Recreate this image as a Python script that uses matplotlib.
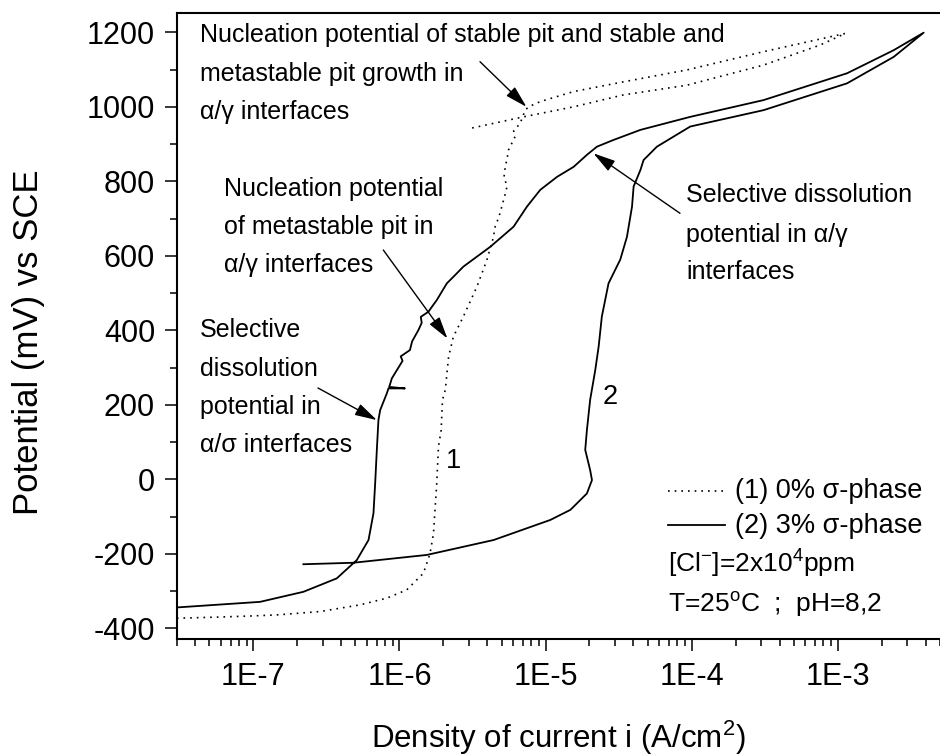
import numpy as np
import matplotlib
matplotlib.use("Agg")
import matplotlib.pyplot as plt
from matplotlib.lines import Line2D
from matplotlib.ticker import FixedLocator, LogLocator, NullFormatter, FuncFormatter, MultipleLocator

plt.rcParams['font.family'] = ['Liberation Sans', 'DejaVu Sans']
plt.rcParams['mathtext.fontset'] = 'custom'
plt.rcParams['mathtext.rm'] = 'Liberation Sans'
plt.rcParams['mathtext.it'] = 'Liberation Sans:italic'
plt.rcParams['mathtext.bf'] = 'Liberation Sans:bold'
plt.rcParams['axes.unicode_minus'] = False

# curve 1 : 0% sigma-phase (forward scan then reverse)
i_0 = [2.99e-8, 5.61e-8, 9.48e-8, 1.45e-7, 2.86e-7, 5.38e-7, 8.20e-7, 1.12e-6,
       1.46e-6, 1.62e-6, 1.71e-6, 1.80e-6, 1.85e-6, 1.93e-6, 1.97e-6, 2.06e-6,
       2.17e-6, 2.34e-6, 2.74e-6, 3.39e-6, 3.97e-6, 4.18e-6, 4.40e-6, 4.52e-6,
       4.80e-6, 5.02e-6, 5.25e-6, 5.45e-6, 5.20e-6, 5.30e-6, 5.45e-6, 5.58e-6,
       6.19e-6, 6.05e-6, 6.71e-6, 7.26e-6, 7.66e-6, 9.20e-6, 1.56e-5, 3.42e-5,
       9.29e-5, 3.11e-4, 1.13e-3,
       7.60e-4, 3.11e-4, 9.29e-5, 3.42e-5, 1.56e-5, 7.06e-6, 3.05e-6]
E_0 = [-373, -370, -367, -364, -355, -337, -319, -297,
       -252, -199, -145, -11, 88, 132, 213, 240,
       329, 383, 437, 517, 589, 620, 650, 678,
       705, 732, 760, 786, 812, 839, 860, 884,
       920, 935, 956, 991, 1000, 1014, 1041, 1067,
       1099, 1148, 1197,
       1166, 1112, 1058, 1032, 1000, 973, 942]

# curve 2 : 3% sigma-phase (forward scan then reverse)
i_3 = [2.99e-8, 1.11e-7, 2.20e-7, 3.72e-7, 5.10e-7, 6.14e-7, 6.64e-7, 6.82e-7,
       7.00e-7, 7.18e-7, 7.38e-7, 8.20e-7, 8.41e-7, 1.09e-6, 8.51e-7, 8.87e-7,
       1.05e-6, 1.02e-6, 1.18e-6, 1.22e-6, 1.35e-6, 1.42e-6, 1.40e-6, 1.58e-6,
       1.66e-6, 1.80e-6, 2.11e-6, 2.40e-6, 2.74e-6, 4.18e-6, 6.04e-6,
       7.46e-6, 9.20e-6, 1.20e-5, 1.56e-5, 1.92e-5, 2.25e-5, 2.92e-5, 4.46e-5,
       9.79e-5, 3.11e-4, 1.16e-3, 2.42e-3, 3.88e-3,
       2.42e-3, 1.16e-3, 3.11e-4, 9.79e-5, 5.79e-5, 4.69e-5, 4.46e-5,
       4.01e-5, 3.91e-5, 3.61e-5, 3.25e-5, 2.70e-5, 2.43e-5, 2.31e-5, 2.19e-5,
       2.02e-5, 1.92e-5, 1.87e-5, 2.02e-5, 2.08e-5, 1.92e-5, 1.48e-5, 1.08e-5,
       4.41e-6, 1.54e-6, 4.84e-7, 2.20e-7]
E_3 = [-344, -329, -302, -266, -217, -163, -91, -10,
       79, 159, 186, 231, 244, 244, 248, 271,
       318, 330, 347, 370, 401, 420, 436, 450,
       462, 481, 526, 548, 571, 624, 678,
       732, 777, 812, 839, 871, 893, 911, 938,
       973, 1018, 1090, 1152, 1199,
       1134, 1063, 991, 947, 893, 857, 830,
       786, 732, 651, 590, 526, 437, 356, 293,
       213, 132, 79, 25, -2, -38, -82, -109,
       -163, -203, -224, -228]

x_major = [1e-7, 1e-6, 1e-5, 1e-4, 1e-3]
legend_labels = ["(1) 0% σ-phase", "(2) 3% σ-phase"]

W, H = 940, 756
fig = plt.figure(figsize=(W / 100, H / 100), dpi=100)
ax = fig.add_axes([176.7 / W, 1 - 639 / H, (W - 176.7) / W, (639 - 13.3) / H])

ax.plot(i_0, E_0, color='k', lw=1.2, ls=(0, (1, 3)))
ax.plot(i_3, E_3, color='k', lw=1.3)

ax.set_xscale('log')
ax.set_xlim(2.985e-8, 5.02e-3)
ax.set_ylim(-428.7, 1251)

ax.xaxis.set_major_locator(FixedLocator(x_major))
ax.xaxis.set_major_formatter(FuncFormatter(lambda v, p: "1E%d" % round(np.log10(v))))
ax.xaxis.set_minor_locator(LogLocator(base=10, subs=np.arange(2, 10)))
ax.xaxis.set_minor_formatter(NullFormatter())
ax.yaxis.set_major_locator(MultipleLocator(200))
ax.yaxis.set_minor_locator(MultipleLocator(100))

ax.tick_params(which='both', direction='out', width=1.1, labelsize=22, top=False, right=False)
ax.tick_params(which='major', length=8.6, pad=7)
ax.tick_params(axis='x', which='major', pad=8)
ax.tick_params(which='minor', length=5)
for s in ['left', 'bottom', 'top']:
    ax.spines[s].set_linewidth(1.5)
ax.spines['right'].set_visible(False)

ax.set_xlabel("Density of current i (A/cm$^{2}$)", fontsize=22.5)
ax.set_ylabel("Potential (mV) vs SCE", fontsize=25)
ax.xaxis.set_label_coords(0.5, -0.127)
ax.yaxis.set_label_coords(-0.172, 0.475)


def ftext(x, y, s, size=18):
    fig.text(x / W, 1 - y / H, s, fontsize=size, va='baseline', ha='left')


for y, s in zip([42, 81, 119], ["Nucleation potential of stable pit and stable and",
                                "metastable pit growth in", "α/γ interfaces"]):
    ftext(200, y, s)
for y, s in zip([196, 234, 272], ["Nucleation potential", "of metastable pit in",
                                  "α/γ interfaces"]):
    ftext(224, y, s)
for y, s in zip([202, 242, 279], ["Selective dissolution", "potential in α/γ",
                                  "interfaces"]):
    ftext(686, y, s)
for y, s in zip([337, 376, 414, 452], ["Selective", "dissolution", "potential in",
                                       "α/σ interfaces"]):
    ftext(200, y, s)
ftext(446, 468, "1", 19.5)
ftext(603, 404, "2", 19.5)

arrow = dict(arrowstyle='-|>,head_length=0.9,head_width=0.25', color='k', lw=1.0,
             shrinkA=0, shrinkB=0, mutation_scale=15)
for tip, start in [((7.4e-6, 1000), (480, 61.7)),
                   ((2.13e-6, 378), (383.3, 250)),
                   ((2.13e-5, 875), (680, 213.3)),
                   ((7.0e-7, 159), (318, 388))]:
    ax.annotate('', xy=tip, xycoords='data', xytext=(start[0], H - start[1]),
                textcoords='figure pixels', arrowprops=arrow)

# legend block
fig.add_artist(Line2D([668 / W, 725 / W], [1 - 491 / H] * 2, color='k', lw=1.2, ls=(0, (1, 3))))
fig.add_artist(Line2D([668 / W, 725 / W], [1 - 525 / H] * 2, color='k', lw=1.3))
ftext(735, 498, legend_labels[0], 19.5)
ftext(735, 533, legend_labels[1], 19.5)
ftext(668, 573, "[Cl$^{-}$]=2x10$^{4}$ppm", 19)
ftext(668, 612, "T=25$^{\\mathrm{o}}$C  ;  pH=8,2", 19)

fig.savefig("out.png", dpi=100)
